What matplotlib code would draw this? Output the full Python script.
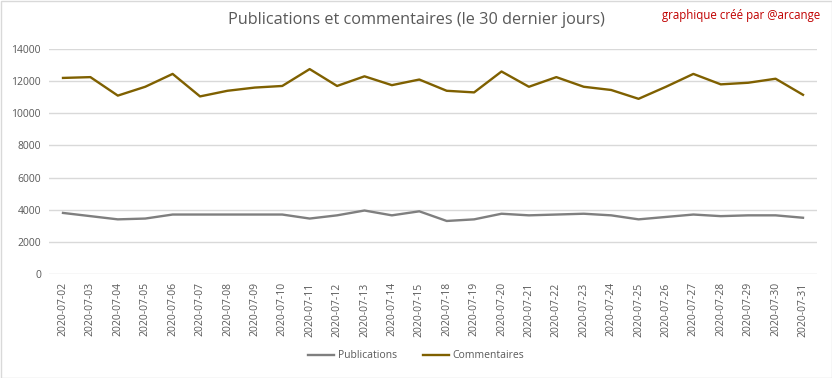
import matplotlib
matplotlib.use("Agg")
import matplotlib.pyplot as plt
from matplotlib.patches import Rectangle

dates = ["2020-07-02", "2020-07-03", "2020-07-04", "2020-07-05", "2020-07-06", "2020-07-07",
         "2020-07-08", "2020-07-09", "2020-07-10", "2020-07-11", "2020-07-12", "2020-07-13",
         "2020-07-14", "2020-07-15", "2020-07-18", "2020-07-19", "2020-07-20", "2020-07-21",
         "2020-07-22", "2020-07-23", "2020-07-24", "2020-07-25", "2020-07-26", "2020-07-27",
         "2020-07-28", "2020-07-29", "2020-07-30", "2020-07-31"]
publications = [3800, 3600, 3400, 3450, 3700, 3700, 3700, 3700, 3700, 3450, 3650, 3950,
                3650, 3900, 3300, 3400, 3750, 3650, 3700, 3750, 3650, 3400, 3550, 3700,
                3600, 3650, 3650, 3500]
commentaires = [12200, 12250, 11100, 11650, 12450, 11050, 11400, 11600, 11700, 12750, 11700, 12300,
                11750, 12100, 11400, 11300, 12600, 11650, 12250, 11650, 11450, 10900, 11650, 12450,
                11800, 11900, 12150, 11150]
yticks = [0, 2000, 4000, 6000, 8000, 10000, 12000, 14000]

plt.rcParams['font.family'] = ['Open Sans', 'DejaVu Sans']
fig = plt.figure(figsize=(8.32, 3.78), dpi=100)
ax = fig.add_axes([49.3/832, 1-274/378, (816.7-49.3)/832, (274-49)/378])

x = list(range(len(dates)))
ax.plot(x, publications, color="#7f7f7f", lw=1.7, label="Publications")
ax.plot(x, commentaires, color="#7f6000", lw=1.7, label="Commentaires")

ax.set_xlim(-0.5, len(dates) - 0.5)
ax.set_ylim(0, 14000)
ax.set_yticks(yticks)
ax.set_yticklabels([str(v) for v in yticks], fontsize=7.5, color="#595959")
ax.set_xticks(x)
ax.set_xticklabels(dates, rotation=90, fontsize=7.5, color="#595959")
ax.tick_params(axis='both', length=0, pad=6)
ax.grid(axis='y', color="#d9d9d9", lw=1)
ax.set_axisbelow(True)
for s in ax.spines.values():
    s.set_visible(False)

fig.text(0.5, 1-20/378, "Publications et commentaires (le 30 dernier jours)", ha='center', va='center',
         fontsize=11.7, color="#595959")
fig.text(820/832, 1-16/378, "graphique créé par @arcange", ha='right', va='center',
         fontsize=8.3, color="#c00000")

leg = fig.legend(loc='center', bbox_to_anchor=(0.5, 1-356/378), ncol=2, frameon=False,
                 fontsize=7.5, handlelength=2.5, columnspacing=2.5, handletextpad=0.3)
for t in leg.get_texts():
    t.set_color("#595959")

fig.add_artist(Rectangle((0.5/832, 0.5/378), 1-1/832, 1-1/378, transform=fig.transFigure,
                         fill=False, edgecolor="#d9d9d9", lw=1))

fig.savefig("out.png", dpi=100)
